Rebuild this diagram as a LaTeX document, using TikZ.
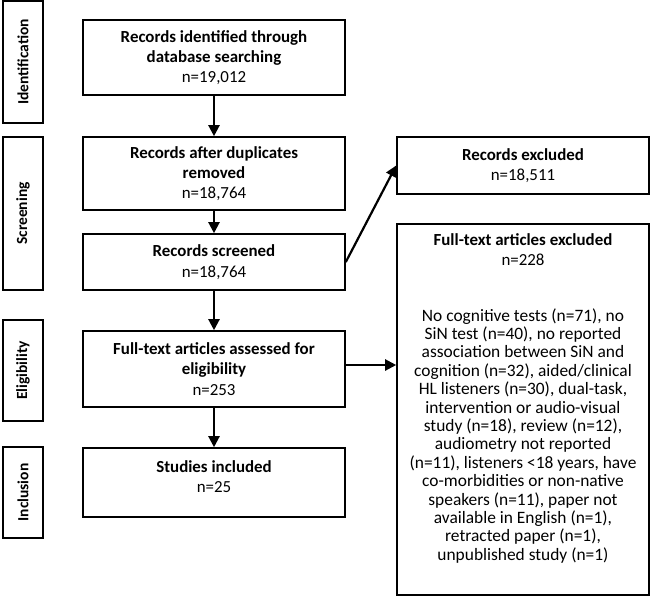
\documentclass[tikz,border=0pt]{standalone}
\usepackage{fontspec}
\setmainfont{Carlito}
\usetikzlibrary{arrows.meta}
% centred lines, exactly \baselineskip apart; baseline = first line
\newcommand{\clines}[1]{\vtop{\lineskiplimit=-100pt\lineskip=0pt\halign{\hfil##\hfil\cr#1\crcr}}}
\begin{document}
\begin{tikzpicture}[x=1pt,y=-1pt,
  box/.style={draw, line width=1.6pt, align=center, inner sep=0pt,
    font=\fontsize{16.9}{20.3}\selectfont},
  txt/.style={inner sep=0pt, anchor=base, font=\fontsize{16.9}{20.3}\selectfont},
  bodytxt/.style={inner sep=0pt, anchor=base, font=\fontsize{17.4}{18.4}\selectfont},
  stagebox/.style={draw, line width=1.6pt, inner sep=0pt, rotate=90,
    minimum height=40pt, font=\bfseries\fontsize{15.5}{18}\selectfont},
  arr/.style={line width=2.2pt, -{Triangle[length=11pt,width=11pt]}},
]
\useasboundingbox (0,0) rectangle (650,603);

% stage labels
\node[stagebox, minimum width=122pt] (sid) at (23,62) {Identification};
\node[stagebox, minimum width=153pt] (ssc) at (23,213.5) {Screening};
\node[stagebox, minimum width=101pt] (sel) at (23,370.5) {Eligibility};
\node[stagebox, minimum width=91pt] (sin) at (23,492.5) {Inclusion};

% main column
\node[box, minimum width=262pt, minimum height=75pt] (b1) at (214,57.5)
  {\textbf{Records identified through}\\\textbf{database searching}\\n=19,012};
\node[box, minimum width=262pt, minimum height=73pt] (b2) at (214,173.5)
  {\textbf{Records after duplicates}\\\textbf{removed}\\n=18,764};
\node[box, minimum width=262pt, minimum height=56pt] (b3) at (214,262)
  {\textbf{Records screened}\\n=18,764};
\node[box, minimum width=262pt, minimum height=76pt] (b4) at (214,369)
  {\textbf{Full-text articles assessed for}\\\textbf{eligibility}\\n=253};
\node[box, minimum width=262pt, minimum height=69pt] (b5) at (214,482.5) {};
\node[txt] (b5t) at (214,472) {\clines{\textbf{Studies included}\cr n=25}};

% right column
\node[box, minimum width=252pt, minimum height=57pt] (rx) at (523,165.5)
  {\textbf{Records excluded}\\n=18,511};
\node[box, minimum width=252pt, minimum height=371pt] (fx) at (523,409.5) {};
\node[txt] (fxh) at (523,245) {\clines{\textbf{Full-text articles excluded}\cr n=228}};
\node[bodytxt] (fxb) at (523,321)
  {\clines{No cognitive tests (n=71), no\cr
   SiN test (n=40), no reported\cr
   association between SiN and\cr
   cognition (n=32), aided/clinical\cr
   HL listeners (n=30), dual-task,\cr
   intervention or audio-visual\cr
   study (n=18), review (n=12),\cr
   audiometry not reported\cr
   (n=11), listeners <18 years, have\cr
   co-morbidities or non-native\cr
   speakers (n=11), paper not\cr
   available in English (n=1),\cr
   retracted paper (n=1),\cr
   unpublished study (n=1)}};

% connectors
\draw[arr] (b1) -- (b2);
\draw[arr] (b2) -- (b3);
\draw[arr] (b3) -- (b4);
\draw[arr] (b4) -- (b5);
\draw[arr] (b3.east) -- (rx.west);
\draw[arr] ([yshift=4pt]b4.east) -- ([yshift=4pt]b4.east -| fx.west);
\end{tikzpicture}
\end{document}
